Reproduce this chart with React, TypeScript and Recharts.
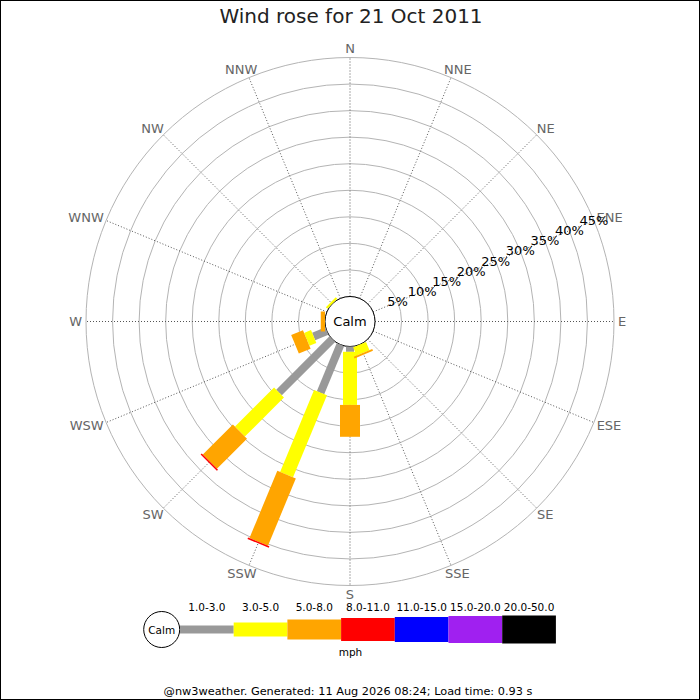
import React from 'react';
import {
  RadialBarChart,
  RadialBar,
  PolarAngleAxis,
  PolarRadiusAxis,
  PolarGrid,
  Customized,
} from 'recharts';

// ---- data ----
const directions = ['N', 'NNE', 'NE', 'ENE', 'E', 'ESE', 'SE', 'SSE', 'S', 'SSW', 'SW', 'WSW', 'W', 'WNW', 'NW', 'NNW'];
const speedLabels = ['1.0-3.0', '3.0-5.0', '5.0-8.0', '8.0-11.0', '11.0-15.0', '15.0-20.0', '20.0-50.0'];
const speedColors = ['#999999', '#ffff00', '#ffa500', '#ff0000', '#0000ff', '#a020f0', '#000000'];
// percent of time per direction, per speed class (mph)
const speed1to3 = [0, 0, 0, 0, 0, 0, 0, 0, 1.0, 9.8, 14.2, 2.7, 0, 0, 0, 0];
const speed3to5 = [0, 0, 0, 0, 0, 0, 0, 1.7, 10.0, 16.7, 10.4, 1.4, 0, 0, 0.4, 0];
const speed5to8 = [0, 0, 0, 0, 0, 0, 0, 0.35, 6.0, 13.7, 8.0, 2.4, 0.8, 0, 0, 0];
const speed8to11 = [0, 0, 0, 0, 0, 0, 0, 0, 0, 0.3, 0.3, 0, 0, 0, 0, 0];
const speed11to15 = [0, 0, 0, 0, 0, 0, 0, 0, 0, 0, 0, 0, 0, 0, 0, 0];
const speed15to20 = [0, 0, 0, 0, 0, 0, 0, 0, 0, 0, 0, 0, 0, 0, 0, 0];
const speed20to50 = [0, 0, 0, 0, 0, 0, 0, 0, 0, 0, 0, 0, 0, 0, 0, 0];
const seriesValues = [speed1to3, speed3to5, speed5to8, speed8to11, speed11to15, speed15to20, speed20to50];
const radiusDomain = [0, 45];

// ---- styling ----
const barWidths = [8, 14, 20, 23, 25, 27, 28];
const CX = 350;
const CY = 321.5;
const INNER = 25;
const OUTER = 264;
const FONT = '"DejaVu Sans", sans-serif';
const HALF_BAND = 360 / directions.length / 2;
const START_ANGLE = 90 - HALF_BAND;
const spokeAngles = directions.map((_, i) => 90 - (i * 360) / directions.length);

const data = directions.map((dir, i) => {
  const row: Record<string, any> = { dir };
  seriesValues.forEach((arr, k) => {
    row['s' + k] = arr[i];
  });
  return row;
});

const makeBarShape = (w: number) => (props: any) => {
  const { cx, cy, innerRadius, outerRadius, startAngle, endAngle, fill } = props;
  if (!(outerRadius - innerRadius > 0.01)) return <g />;
  const mid = (startAngle + endAngle) / 2;
  const rad = (-mid * Math.PI) / 180;
  const ux = Math.cos(rad);
  const uy = Math.sin(rad);
  const nx = -uy;
  const ny = ux;
  const h = w / 2;
  const pts = [
    [innerRadius, -h],
    [outerRadius, -h],
    [outerRadius, h],
    [innerRadius, h],
  ]
    .map(([r, o]) => `${cx + ux * r + nx * o},${cy + uy * r + ny * o}`)
    .join(' ');
  return <polygon points={pts} fill={fill} />;
};

const charW: Record<string, number> = { N: 0.748, E: 0.632, S: 0.635, W: 0.989 };

const renderDirTick = (props: any) => {
  const { payload } = props;
  const cx = props.cx ?? CX;
  const cy = props.cy ?? CY;
  // tick coordinate is the band start; centre the label on the band
  const angle = payload.coordinate + HALF_BAND;
  const rad = (-angle * Math.PI) / 180;
  const ux = Math.cos(rad);
  const uy = Math.sin(rad);
  const fs = 13;
  const label = String(payload.value);
  const w = label.split('').reduce((s, c) => s + (charW[c] || 0.7), 0) * fs;
  const hgt = 10;
  const R = OUTER + 4;
  const x = cx + R * ux + (ux * w) / 2;
  const y = cy + R * uy + (uy * hgt) / 2;
  return (
    <text x={x} y={y} textAnchor="middle" dominantBaseline="central" fontSize={fs} fill="#666" fontFamily={FONT}>
      {label}
    </text>
  );
};

const renderPctTick = (props: any) => {
  const { x, y, payload } = props;
  if (payload.value === 0) return <g />;
  return (
    <text x={x} y={y} textAnchor="middle" dominantBaseline="central" fontSize={13} fill="#000" fontFamily={FONT}>
      {payload.value}%
    </text>
  );
};

const CalmCircle = () => (
  <g>
    <circle cx={CX} cy={CY} r={INNER} fill="#fff" stroke="#000" strokeWidth={1} />
    <text x={CX} y={CY} textAnchor="middle" dominantBaseline="central" fontSize={13} fill="#000" fontFamily={FONT}>
      Calm
    </text>
  </g>
);

const LEG_X0 = 180;
const LEG_SEG = 53.7;
const LEG_Y = 629.5;

export default function App() {
  return (
    <div style={{ position: 'absolute', left: 0, top: 0, width: 700, height: 700, background: '#fff', overflow: 'hidden' }}>
      <div style={{ position: 'absolute', left: 0, top: 0 }}>
        <RadialBarChart
          width={700}
          height={700}
          cx={CX}
          cy={CY}
          innerRadius={INNER}
          outerRadius={OUTER}
          startAngle={START_ANGLE}
          endAngle={START_ANGLE - 360}
          data={data}
          layout="centric"
          margin={{ top: 0, right: 0, bottom: 0, left: 0 }}
        >
          <PolarGrid gridType="circle" radialLines={false} stroke="#b4b4b4" strokeWidth={1} />
          <PolarGrid
            gridType="circle"
            polarRadius={[]}
            polarAngles={spokeAngles}
            stroke="#555"
            strokeWidth={1}
            strokeDasharray="1 2"
          />
          <PolarAngleAxis type="category" dataKey="dir" tick={renderDirTick} tickLine={false} axisLine={false} />
          <PolarRadiusAxis
            type="number"
            angle={22.5}
            domain={radiusDomain}
            tickCount={10}
            allowDataOverflow
            axisLine={false}
            tickLine={false}
            tick={renderPctTick}
          />
          {seriesValues.map((_, k) => (
            <RadialBar
              key={k}
              dataKey={'s' + k}
              stackId="a"
              fill={speedColors[k]}
              shape={makeBarShape(barWidths[k])}
              isAnimationActive={false}
            />
          ))}
          <Customized component={CalmCircle} />
        </RadialBarChart>
      </div>
      <svg width={700} height={700} style={{ position: 'absolute', left: 0, top: 0, pointerEvents: 'none' }}>
        <text x={351} y={23} textAnchor="middle" fontSize={20} fill="#222" fontFamily={FONT}>
          Wind rose for 21 Oct 2011
        </text>
        <circle cx={161.7} cy={LEG_Y} r={18} fill="#fff" stroke="#000" strokeWidth={1} />
        <text x={161.7} y={LEG_Y} textAnchor="middle" dominantBaseline="central" fontSize={10.5} fill="#000" fontFamily={FONT}>
          Calm
        </text>
        {speedLabels.map((lab, k) => (
          <g key={lab}>
            <rect
              x={LEG_X0 + k * LEG_SEG}
              y={LEG_Y - barWidths[k] / 2}
              width={LEG_SEG}
              height={barWidths[k]}
              fill={speedColors[k]}
            />
            <text
              x={LEG_X0 + k * LEG_SEG + LEG_SEG / 2}
              y={611}
              textAnchor="middle"
              fontSize={10.5}
              fill="#000"
              fontFamily={FONT}
            >
              {lab}
            </text>
          </g>
        ))}
        <text x={350.5} y={656} textAnchor="middle" fontSize={10.5} fill="#000" fontFamily={FONT}>
          mph
        </text>
        <text x={348} y={695} textAnchor="middle" fontSize={11.3} fill="#000" fontFamily={FONT}>
          @nw3weather. Generated: 11 Aug 2026 08:24; Load time: 0.93 s
        </text>
        <rect x={0.5} y={0.5} width={699} height={699} fill="none" stroke="#000" strokeWidth={1} />
      </svg>
    </div>
  );
}
